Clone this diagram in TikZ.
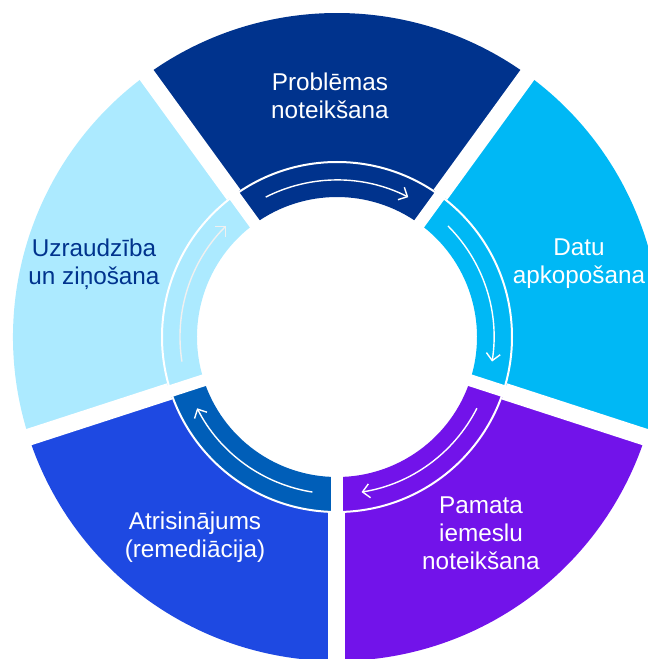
\documentclass[tikz,border=0pt]{standalone}
\usepackage{fontspec}
\setmainfont{Liberation Sans}
\usetikzlibrary{arrows.meta}
\definecolor{kpmgdark}{HTML}{00338D}
\definecolor{kpmgpacific}{HTML}{00B8F5}
\definecolor{kpmgpurple}{HTML}{7213EA}
\definecolor{kpmgblue}{HTML}{1E49E2}
\definecolor{kpmgmedium}{HTML}{005EB8}
\definecolor{kpmglight}{HTML}{ACEAFF}
\tikzset{
    %Define standard arrow tip
    >={Straight Barb[length=7pt,width=14pt]},
    %Define style for the stage labels
    stage/.style={
           font=\fontsize{24.3}{28}\selectfont,
           align=center,
           text=white},
    % Define arrow style
    cyc/.style={
           ->,
           line width=1.4pt,
           white},
    gapline/.style={white, line width=12pt},
    outergap/.style={white, line width=17pt}
}

\begin{document}
\begin{tikzpicture}[x=1pt,y=1pt]
\useasboundingbox (-337,-322) rectangle (311,337);

% outer parts
\fill[kpmgdark]    (54:175) arc (54:126:175) -- (126:324) arc (126:54:324) -- cycle;
\fill[kpmgpacific] (-18:175) arc (-18:54:175) -- (54:324) arc (54:-18:324) -- cycle;
\fill[kpmgpurple]  (-90:175) arc (-90:-18:175) -- (-18:324) arc (-18:-90:324) -- cycle;
\fill[kpmgblue]    (-162:175) arc (-162:-90:175) -- (-90:324) arc (-90:-162:324) -- cycle;
\fill[kpmglight]   (126:175) arc (126:198:175) -- (198:324) arc (198:126:324) -- cycle;

% inner band
\fill[kpmgdark]    (54:140) arc (54:126:140) -- (126:175) arc (126:54:175) -- cycle;
\fill[kpmgpacific] (-18:140) arc (-18:54:140) -- (54:175) arc (54:-18:175) -- cycle;
\fill[kpmgpurple]  (-90:140) arc (-90:-18:140) -- (-18:175) arc (-18:-90:175) -- cycle;
\fill[kpmgmedium]  (-162:140) arc (-162:-90:140) -- (-90:175) arc (-90:-162:175) -- cycle;
\fill[kpmglight]   (126:140) arc (126:198:140) -- (198:175) arc (198:126:175) -- cycle;

\draw[white, line width=2pt] (0,0) circle (175);

% gaps
\foreach \a in {54,126,198,270,342}{
    \draw[gapline] (\a:130) -- (\a:180);
    \draw[outergap] (\a:176) -- (\a:340);
}

% arrows
\draw[cyc] (117:157) arc (117:63:157);
\draw[cyc] (45:157) arc (45:-9:157);
\draw[cyc] (-27:157) arc (-27:-81:157);
\draw[cyc] (-99:157) arc (-99:-153:157);
\draw[cyc, white!88!gray] (-171:157) arc (-171:-225:157);

% labels
\node[stage] (problem) at (-7,241) {Problēmas\\noteikšana};
\node[stage] (data) at (242,73) {Datu\\apkopošana};
\node[stage] (cause) at (144,-196) {Pamata\\iemeslu\\noteikšana};
\node[stage] (remedy) at (-142,-200) {Atrisinājums\\(remediācija)};
\node[stage, text=kpmgdark] (monitor) at (-243,73) {Uzraudzība\\un ziņošana};
\end{tikzpicture}
\end{document}
